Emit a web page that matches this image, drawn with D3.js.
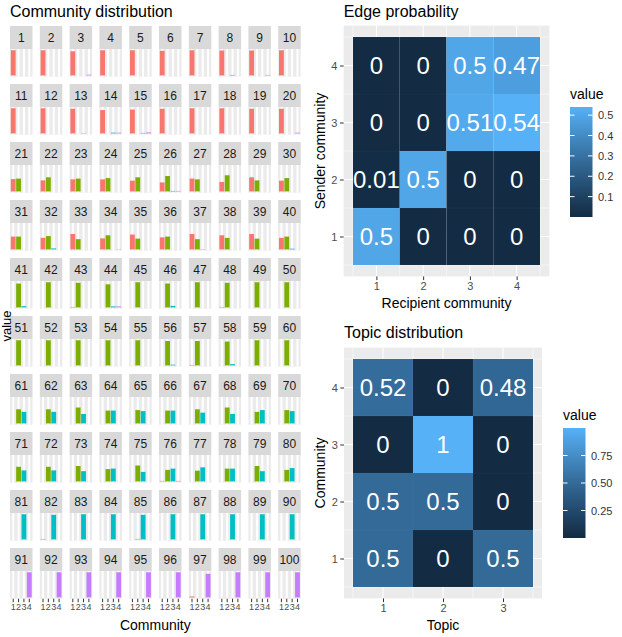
<!DOCTYPE html>
<html><head><meta charset="utf-8">
<script src="https://cdn.jsdelivr.net/npm/d3@7"></script>
<style>body{margin:0;background:#fff} svg text{font-family:"Liberation Sans",Arial,Helvetica,sans-serif}</style>
</head><body><svg id="c" width="622" height="637"></svg>
<script>
// ---------- DATA ----------
const communities = ["1","2","3","4"];
const communityColors = ["#F8766D","#7CAE00","#00BFC4","#C77CFF"];
const nodeLabels = d3.range(1,101).map(String);
const comm1 = [.98,.98,.94,.98,.98,.96,.98,.97,.97,.98, .98,.98,.96,.91,.93,.96,.98,.98,.96,.96,
  .48,.43,.47,.47,.42,.35,.5,.37,.55,.42, .5,.45,.6,.43,.58,.47,.6,.55,.6,.45,
  0,0,.02,0,0,0,0,.02,0,0, 0,0,0,0,0,0,.02,0,0,0, 0,0,0,0,0,0,0,0,0,0,
  0,0,0,0,0,.02,0,0,0,0, 0,.02,0,0,0,0,0,0,0,0, 0,0,0,0,0,0,.04,0,0,0];
const comm2 = [0,0,0,0,0,0,0,0,0,0, 0,0,0,0,0,0,0,0,0,0,
  .5,.55,.5,.52,.55,.6,.47,.63,.43,.52, .5,.52,.4,.55,.42,.5,.4,.45,.42,.5,
  .93,.98,.96,.9,.98,.93,.98,.96,.98,.98, .98,.98,.98,.98,.98,.95,.95,.93,.98,.98,
  .55,.55,.62,.5,.52,.5,.55,.62,.45,.52, .57,.57,.6,.48,.62,.45,.42,.5,.6,.45,
  0,0,0,0,.02,0,0,0,0,0, 0,0,0,0,0,0,0,0,0,0];
const comm3 = [0,0,0,0,0,0,0,.02,0,0, 0,0,.01,.03,.02,0,0,0,0,0,
  0,0,0,0,0,.02,0,0,0,0, 0,.04,0,0,0,0,.01,0,0,.03,
  .05,0,0,.04,0,.06,0,0,0,0, 0,0,0,0,0,.03,0,.05,0,0,
  .45,.45,.37,.5,.48,.5,.42,.37,.52,.48, .43,.43,.4,.5,.37,.5,.55,.5,.4,.52,
  .98,.96,.98,.98,.96,.98,.98,.98,.98,.98, 0,0,0,0,0,0,0,0,0,0];
const comm4 = [0,0,.03,0,0,0,0,0,.02,0, 0,0,0,.03,.04,0,0,0,0,.03,
  0,0,0,0,0,.02,0,0,0,0, 0,0,0,.01,0,0,0,0,0,0,
  0,0,0,.04,0,0,0,0,0,0, 0,0,0,0,0,0,0,0,0,0,
  0,0,0,0,0,0,0,0,0,0, 0,0,0,0,0,.02,0,0,0,0,
  0,0,0,0,0,0,0,0,0,0, .98,.98,.98,.98,.98,.98,.92,.98,.98,.98];

const edgeRecipient = ["1","2","3","4"];
const edgeSender = ["1","2","3","4"];
// rows = sender 1..4, columns = recipient 1..4
const edgeValues = [[0.5,0,0,0],[0.01,0.5,0,0],[0,0,0.51,0.54],[0,0,0.5,0.47]];
const edgeLegendTicks = [0.1,0.2,0.3,0.4,0.5];

const topics = ["1","2","3"];
const topicCommunities = ["1","2","3","4"];
// rows = community 1..4, columns = topic 1..3
const topicValues = [[0.5,0,0.5],[0.5,0.5,0],[0,1,0],[0.52,0,0.48]];
const topicLegendTicks = [0.25,0.5,0.75];

// ---------- DRAW ----------
const svg = d3.select("#c");
const lowC = "#132B43", highC = "#56B1F7";

// Left: facet grid
const fx0 = 10, fdx = 29.8, fw = 22.5, fy0 = 26, fdy = 58, stripH = 23, ph = 27.7;
const allVals = [comm1,comm2,comm3,comm4];
const vmax = d3.max(allVals.flat());
const fxs = d3.scaleBand().domain(communities).range([0,fw]).paddingInner(0.1).paddingOuter(0.15);
const fys = d3.scaleLinear().domain([-0.05*vmax, 1.05*vmax]).range([ph,0]);
const fcol = d3.scaleOrdinal().domain(communities).range(communityColors);

svg.append("text").attr("x",10).attr("y",16.5).attr("font-size",16).attr("fill","#000").text("Community distribution");

nodeLabels.forEach((lab,i)=>{
  const col=i%10,row=Math.floor(i/10);
  const g = svg.append("g").attr("transform",`translate(${fx0+col*fdx},${fy0+row*fdy})`);
  g.append("rect").attr("width",fw).attr("height",stripH).attr("fill","#D9D9D9");
  g.append("text").attr("x",fw/2).attr("y",stripH/2+4.3).attr("text-anchor","middle").attr("font-size",12).attr("fill","#1A1A1A").text(lab);
  const p = g.append("g").attr("transform",`translate(0,${stripH})`);
  p.append("rect").attr("width",fw).attr("height",ph).attr("fill","#EBEBEB");
  communities.forEach(c=>{const x=fxs(c)+fxs.bandwidth()/2;p.append("line").attr("x1",x).attr("x2",x).attr("y1",0).attr("y2",ph).attr("stroke","#fff").attr("stroke-width",2);});
  const vals = allVals.map(a=>a[i]);
  p.selectAll("rect.bar").data(communities.map((c,k)=>({c,v:vals[k]}))).join("rect").attr("class","bar")
    .attr("x",d=>fxs(d.c)).attr("width",fxs.bandwidth())
    .attr("y",d=>fys(d.v)).attr("height",d=>fys(0)-fys(d.v)).attr("fill",d=>fcol(d.c));
  if(row===9){
    const ax = p.append("g").attr("transform",`translate(0,${ph})`).call(d3.axisBottom(fxs).tickSize(3.5).tickPadding(1.5));
    ax.select(".domain").remove();
    ax.selectAll(".tick line").attr("stroke","#333").attr("stroke-width",1);
    ax.selectAll(".tick text").attr("font-size",9).attr("fill","#4D4D4D").attr("font-family",null);
  }
});
svg.append("text").attr("x",fx0+(9*fdx+fw)/2).attr("y",630).attr("text-anchor","middle").attr("font-size",14).attr("fill","#000").text("Community");
svg.append("text").attr("transform",`translate(10.5,326) rotate(-90)`).attr("text-anchor","middle").attr("font-size",13).attr("fill","#000").text("value");

// Heatmap helper
function heat(o){
  const g = svg.append("g");
  const nx=o.xcats.length, ny=o.ycats.length;
  const xs = d3.scaleLinear().domain([0.5,nx+0.5]).range([o.tx0,o.tx1]);
  const ys = d3.scaleLinear().domain([0.5,ny+0.5]).range([o.ty1,o.ty0]);
  const ex = 0.05*nx, ey = 0.05*ny;
  const px0=xs(0.5-ex), px1=xs(nx+0.5+ex), py0=ys(ny+0.5+ey), py1=ys(0.5-ey);
  const vmaxH = d3.max(o.values.flat()), vminH = d3.min(o.values.flat());
  const cs = d3.scaleLinear().domain([vminH,vmaxH]).range([lowC,highC]).interpolate(d3.interpolateLab);
  g.append("text").attr("x",px0).attr("y",o.titleY).attr("font-size",16).attr("fill","#000").text(o.title);
  g.append("rect").attr("x",px0).attr("y",py0).attr("width",px1-px0).attr("height",py1-py0).attr("fill","#EBEBEB");
  d3.range(0,nx+1).map(k=>k+0.5).forEach(v=>g.append("line").attr("x1",xs(v)).attr("x2",xs(v)).attr("y1",py0).attr("y2",py1).attr("stroke","#fff").attr("stroke-width",0.5));
  d3.range(0,ny+1).map(k=>k+0.5).forEach(v=>g.append("line").attr("y1",ys(v)).attr("y2",ys(v)).attr("x1",px0).attr("x2",px1).attr("stroke","#fff").attr("stroke-width",0.5));
  d3.range(1,nx+1).forEach(v=>g.append("line").attr("x1",xs(v)).attr("x2",xs(v)).attr("y1",py0).attr("y2",py1).attr("stroke","#fff").attr("stroke-width",1));
  d3.range(1,ny+1).forEach(v=>g.append("line").attr("y1",ys(v)).attr("y2",ys(v)).attr("x1",px0).attr("x2",px1).attr("stroke","#fff").attr("stroke-width",1));
  const cells=[];
  o.values.forEach((r,yi)=>r.forEach((v,xi)=>cells.push({x:xi+1,y:yi+1,v})));
  g.selectAll("rect.t").data(cells).join("rect").attr("class","t")
    .attr("x",d=>xs(d.x-0.5)).attr("y",d=>ys(d.y+0.5)).attr("width",d=>xs(d.x+0.5)-xs(d.x-0.5)).attr("height",d=>ys(d.y-0.5)-ys(d.y+0.5))
    .attr("fill",d=>cs(d.v)).attr("stroke","rgba(255,255,255,0.06)").attr("stroke-width",0.5);
  g.selectAll("text.l").data(cells).join("text").attr("class","l")
    .attr("x",d=>xs(d.x)).attr("y",d=>ys(d.y)+8.6).attr("text-anchor","middle").attr("font-size",24).attr("fill","#fff").text(d=>String(d.v));
  // axes
  const xa = g.append("g").attr("transform",`translate(0,${py1})`).call(d3.axisBottom(xs).tickValues(d3.range(1,nx+1)).tickFormat((d)=>o.xcats[d-1]).tickSize(3.7).tickPadding(2.5));
  const ya = g.append("g").attr("transform",`translate(${px0},0)`).call(d3.axisLeft(ys).tickValues(d3.range(1,ny+1)).tickFormat((d)=>o.ycats[d-1]).tickSize(3.7).tickPadding(2.5));
  [xa,ya].forEach(a=>{a.select(".domain").remove();a.selectAll(".tick line").attr("stroke","#333");a.selectAll(".tick text").attr("font-size",11).attr("fill","#4D4D4D").attr("font-family",null);});
  g.append("text").attr("x",(px0+px1)/2).attr("y",o.xtitleY).attr("text-anchor","middle").attr("font-size",14).attr("fill","#000").text(o.xtitle);
  g.append("text").attr("transform",`translate(${o.ytitleX},${(py0+py1)/2}) rotate(-90)`).attr("text-anchor","middle").attr("font-size",14).attr("fill","#000").text(o.ytitle);
  // legend
  const lx=o.lx, ly=o.ly, lw=22.5, lh=110;
  const gid="grad"+o.id;
  const grad = svg.append("defs").append("linearGradient").attr("id",gid).attr("x1",0).attr("x2",0).attr("y1",1).attr("y2",0);
  d3.range(0,1.0001,0.1).forEach(t=>grad.append("stop").attr("offset",t).attr("stop-color",cs(vminH+t*(vmaxH-vminH))));
  g.append("text").attr("x",lx).attr("y",ly-8).attr("font-size",14).attr("fill","#000").text("value");
  g.append("rect").attr("x",lx).attr("y",ly).attr("width",lw).attr("height",lh).attr("fill",`url(#${gid})`);
  const ls = d3.scaleLinear().domain([vminH,vmaxH]).range([ly+lh,ly]);
  o.legendTicks.forEach(t=>{
    g.append("line").attr("x1",lx).attr("x2",lx+lw/5).attr("y1",ls(t)).attr("y2",ls(t)).attr("stroke","#fff").attr("stroke-width",1);
    g.append("line").attr("x1",lx+lw-lw/5).attr("x2",lx+lw).attr("y1",ls(t)).attr("y2",ls(t)).attr("stroke","#fff").attr("stroke-width",1);
    g.append("text").attr("x",lx+lw+5.5).attr("y",ls(t)+4).attr("font-size",11).attr("fill","#333").text(o.legendFmt(t));
  });
}

heat({id:"e",title:"Edge probability",titleY:16.5,xcats:edgeRecipient,ycats:edgeSender,values:edgeValues,
  tx0:353,tx1:540,ty0:37,ty1:265,xtitle:"Recipient community",xtitleY:308,ytitle:"Sender community",ytitleX:325,
  lx:570,ly:107,legendTicks:edgeLegendTicks,legendFmt:d3.format(".1f")});
heat({id:"t",title:"Topic distribution",titleY:337.5,xcats:topics,ycats:topicCommunities,values:topicValues,
  tx0:353,tx1:533,ty0:359,ty1:587,xtitle:"Topic",xtitleY:630,ytitle:"Community",ytitleX:325,
  lx:563,ly:428,legendTicks:topicLegendTicks,legendFmt:d3.format(".2f")});
</script></body></html>
